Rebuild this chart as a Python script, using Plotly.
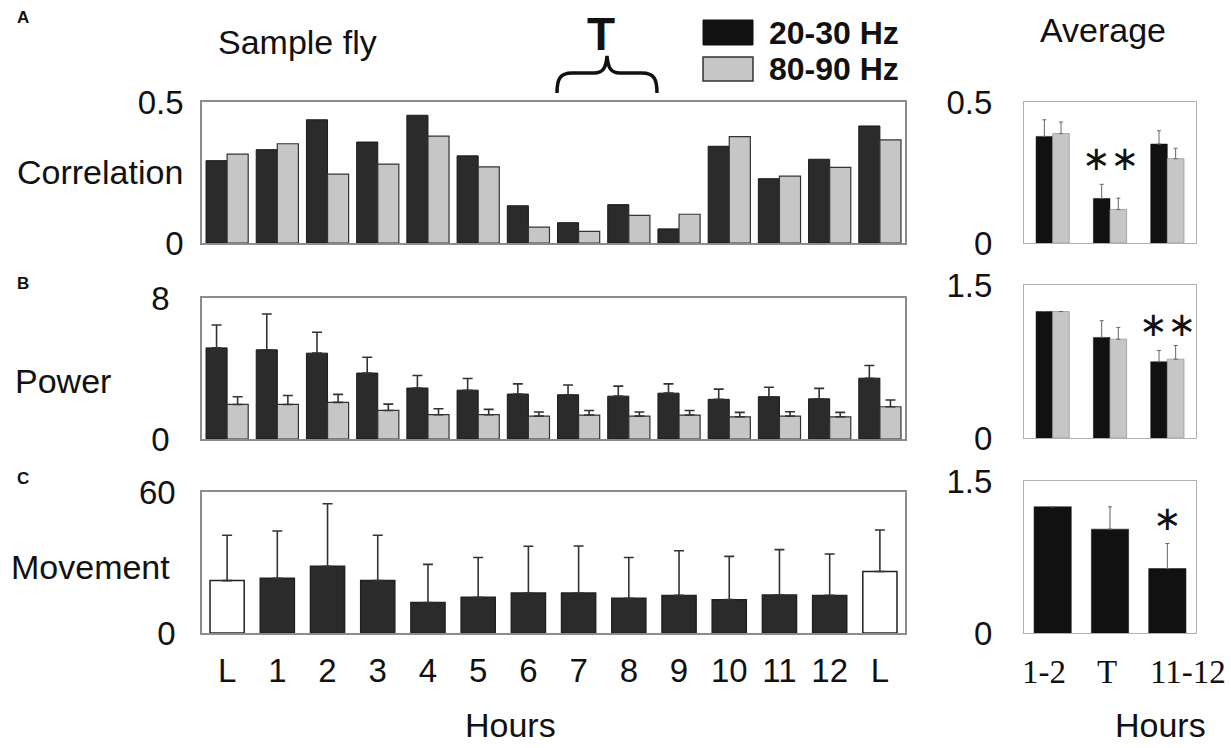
import plotly.graph_objects as go

# ---------------- data ----------------
hours = ["L", "1", "2", "3", "4", "5", "6", "7", "8", "9", "10", "11", "12", "L"]
corr_2030 = [0.292, 0.331, 0.437, 0.358, 0.453, 0.309, 0.132, 0.072, 0.136, 0.050, 0.343, 0.228, 0.297, 0.415]
corr_8090 = [0.315, 0.352, 0.244, 0.280, 0.379, 0.270, 0.056, 0.041, 0.098, 0.102, 0.377, 0.237, 0.268, 0.366]
power_2030 = [5.17, 5.06, 4.87, 3.74, 2.89, 2.77, 2.55, 2.51, 2.43, 2.60, 2.25, 2.40, 2.28, 3.45]
power_2030_err = [1.30, 2.03, 1.19, 0.90, 0.71, 0.66, 0.58, 0.55, 0.57, 0.53, 0.58, 0.54, 0.59, 0.72]
power_8090 = [1.96, 1.96, 2.08, 1.62, 1.38, 1.38, 1.30, 1.36, 1.30, 1.36, 1.26, 1.30, 1.26, 1.83]
power_8090_err = [0.44, 0.51, 0.45, 0.36, 0.34, 0.30, 0.23, 0.26, 0.23, 0.26, 0.25, 0.25, 0.25, 0.38]
movement = [22.3, 23.3, 28.4, 22.3, 13.0, 15.2, 17.0, 17.0, 14.8, 16.0, 14.2, 16.2, 16.0, 26.2]
movement_err = [19.3, 20.1, 26.6, 19.3, 16.2, 16.9, 19.9, 20.0, 17.3, 19.0, 18.4, 19.3, 17.6, 17.6]

avg_groups = ["1-2", "T", "11-12"]
avg_corr_2030 = [0.378, 0.158, 0.351]
avg_corr_2030_err = [0.059, 0.050, 0.047]
avg_corr_8090 = [0.388, 0.119, 0.299]
avg_corr_8090_err = [0.041, 0.040, 0.037]
avg_power_2030 = [1.24, 0.986, 0.747]
avg_power_2030_err = [0.0, 0.164, 0.111]
avg_power_8090 = [1.24, 0.969, 0.773]
avg_power_8090_err = [0.0, 0.115, 0.134]
avg_movement = [1.246, 1.025, 0.636]
avg_movement_err = [0.0, 0.22, 0.247]

sig_corr = ["", "**", ""]
sig_power = ["", "", "**"]
sig_movement = ["", "", "*"]

corr_ticks = [0, 0.5]
power_ticks = [0, 8]
movement_ticks = [0, 60]
avg_corr_ticks = [0, 0.5]
avg_power_ticks = [0, 1.5]
avg_movement_ticks = [0, 1.5]

series_names = ["20-30 Hz", "80-90 Hz"]

# ---------------- layout helpers ----------------
W, H = 1231, 748
SANS = "Liberation Sans, Arial, sans-serif"
SERIF = "Liberation Serif, Times New Roman, serif"
DARK = "#2b2b2b"
DARK_R = "#111111"
LIGHT = "#c6c6c6"


def px_x(x):
    return x / W


def px_y(y):
    return 1 - y / H


def dom_x(a, b):
    return [px_x(a), px_x(b)]


def dom_y(top, bottom):
    return [px_y(bottom), px_y(top)]


fig = go.Figure()
x_idx = list(range(len(hours)))
a_idx = list(range(len(avg_groups)))

bw = 0.42  # pair bar width (left)
# Panel A left
fig.add_trace(go.Bar(x=x_idx, y=corr_2030, name=series_names[0], width=bw, offset=-bw,
                     marker=dict(color=DARK, line=dict(color="#1a1a1a", width=1)),
                     xaxis="x", yaxis="y"))
fig.add_trace(go.Bar(x=x_idx, y=corr_8090, name=series_names[1], width=bw, offset=0,
                     marker=dict(color=LIGHT, line=dict(color="#333", width=1.2)),
                     xaxis="x", yaxis="y"))
# Panel B left
err_style = dict(type="data", symmetric=False, color="#333", thickness=1.6, width=5)
fig.add_trace(go.Bar(x=x_idx, y=power_2030, name=series_names[0], width=bw, offset=-bw,
                     marker=dict(color=DARK, line=dict(color="#1a1a1a", width=1)),
                     error_y=dict(array=power_2030_err, arrayminus=[0] * len(hours), **err_style),
                     xaxis="x3", yaxis="y3"))
fig.add_trace(go.Bar(x=x_idx, y=power_8090, name=series_names[1], width=bw, offset=0,
                     marker=dict(color=LIGHT, line=dict(color="#333", width=1.2)),
                     error_y=dict(array=power_8090_err, arrayminus=[0] * len(hours), **err_style),
                     xaxis="x3", yaxis="y3"))
# Panel C left
mv_colors = ["#ffffff" if h == "L" else DARK for h in hours]
fig.add_trace(go.Bar(x=x_idx, y=movement, name="Movement", width=0.68, offset=-0.34,
                     marker=dict(color=mv_colors, line=dict(color="#222", width=1.5)),
                     error_y=dict(array=movement_err, arrayminus=[0] * len(hours), **err_style),
                     xaxis="x5", yaxis="y5"))

# Right (average) panels
rbw = 0.29
r_err = dict(type="data", symmetric=False, color="#666", thickness=1, width=2)
fig.add_trace(go.Bar(x=a_idx, y=avg_corr_2030, name=series_names[0], width=rbw, offset=-rbw,
                     marker=dict(color=DARK_R, line=dict(color="#111", width=0.5)),
                     error_y=dict(array=avg_corr_2030_err, arrayminus=[0] * 3, **r_err),
                     xaxis="x2", yaxis="y2"))
fig.add_trace(go.Bar(x=a_idx, y=avg_corr_8090, name=series_names[1], width=rbw, offset=0,
                     marker=dict(color=LIGHT, line=dict(color="#999", width=0.8)),
                     error_y=dict(array=avg_corr_8090_err, arrayminus=[0] * 3, **r_err),
                     xaxis="x2", yaxis="y2"))
fig.add_trace(go.Bar(x=a_idx, y=avg_power_2030, name=series_names[0], width=rbw, offset=-rbw,
                     marker=dict(color=DARK_R, line=dict(color="#111", width=0.5)),
                     error_y=dict(array=avg_power_2030_err, arrayminus=[0] * 3, **r_err),
                     xaxis="x4", yaxis="y4"))
fig.add_trace(go.Bar(x=a_idx, y=avg_power_8090, name=series_names[1], width=rbw, offset=0,
                     marker=dict(color=LIGHT, line=dict(color="#999", width=0.8)),
                     error_y=dict(array=avg_power_8090_err, arrayminus=[0] * 3, **r_err),
                     xaxis="x4", yaxis="y4"))
fig.add_trace(go.Bar(x=a_idx, y=avg_movement, name="Movement", width=0.65, offset=-0.325,
                     marker=dict(color=DARK_R, line=dict(color="#111", width=0.5)),
                     error_y=dict(array=avg_movement_err, arrayminus=[0] * 3, **r_err),
                     xaxis="x6", yaxis="y6"))

fig.update_traces(showlegend=False, hoverinfo="skip")

LX = dom_x(202, 905)
RX = dom_x(1024, 1196)
boxline = dict(showline=True, mirror=True, linecolor="#8c8c8c", linewidth=1.5,
               showgrid=False, zeroline=False, ticks="")
rboxline = dict(showline=True, mirror=True, linecolor="#b0b0b0", linewidth=1.2,
                showgrid=False, zeroline=False, ticks="")
tickfont = dict(family=SANS, size=33, color="#111")


def xax(domain, anchor, labels, show, style, font):
    d = dict(domain=domain, anchor=anchor, range=[-0.5, len(labels) - 0.5],
             tickmode="array", tickvals=list(range(len(labels))), ticktext=labels,
             showticklabels=show, tickfont=font, ticklabelstandoff=8, fixedrange=True)
    d.update(style)
    return d


def yax(domain, anchor, ticks, style, standoff):
    d = dict(domain=domain, anchor=anchor, range=[ticks[0], ticks[-1]],
             tickmode="array", tickvals=ticks, ticktext=[("%g" % t) for t in ticks],
             tickfont=tickfont, ticklabelstandoff=standoff, fixedrange=True)
    d.update(style)
    return d


layout = dict(
    width=W, height=H, margin=dict(l=0, r=0, t=0, b=0, pad=0, autoexpand=False),
    paper_bgcolor="white", plot_bgcolor="white", barmode="overlay",
    showlegend=False,
    xaxis=xax(LX, "y", hours, False, boxline, tickfont),
    yaxis=yax(dom_y(102, 243), "x", corr_ticks, boxline, 10),
    xaxis3=xax(LX, "y3", hours, False, boxline, tickfont),
    yaxis3=yax(dom_y(298, 439), "x3", power_ticks, boxline, 24),
    xaxis5=xax(LX, "y5", hours, True, boxline, tickfont),
    yaxis5=yax(dom_y(492, 633), "x5", movement_ticks, boxline, 18),
    xaxis2=xax(RX, "y2", avg_groups, False, rboxline, tickfont),
    yaxis2=yax(dom_y(102, 243), "x2", avg_corr_ticks, rboxline, 24),
    xaxis4=xax(RX, "y4", avg_groups, False, rboxline, tickfont),
    yaxis4=yax(dom_y(285, 438), "x4", avg_power_ticks, rboxline, 24),
    xaxis6=xax(RX, "y6", avg_groups, False, rboxline, tickfont),
    yaxis6=yax(dom_y(481, 633), "x6", avg_movement_ticks, rboxline, 24),
)
fig.update_layout(**layout)

ann = []


def text(x, y, s, size=34, bold=False, xanchor="center", family=SANS):
    ann.append(dict(x=px_x(x), y=px_y(y), xref="paper", yref="paper", text=("<b>%s</b>" % s) if bold else s,
                    showarrow=False, xanchor=xanchor, yanchor="middle",
                    font=dict(family=family, size=size, color="#111")))


text(15, 18, "A", size=17, bold=True, xanchor="left")
text(15, 283, "B", size=17, bold=True, xanchor="left")
text(15, 478, "C", size=17, bold=True, xanchor="left")
text(297, 42, "Sample fly")
text(1103, 30, "Average")
text(100, 172, "Correlation")
text(63, 381, "Power")
text(90, 567, "Movement")
text(510, 725, "Hours")
text(1160, 725, "Hours")
text(601, 34, "T", size=46, bold=True)
text(767, 33, series_names[0], size=32, bold=True, xanchor="left")
text(767, 69, series_names[1], size=32, bold=True, xanchor="left")

# Average-panel category labels (serif), spread as in the original
avg_label_shift = [-9, -3, 21]
for i, g in enumerate(avg_groups):
    ann.append(dict(x=i, y=0, xref="x6", yref="y6", text=g, showarrow=False,
                    xanchor="center", yanchor="top", xshift=avg_label_shift[i], yshift=-19,
                    font=dict(family=SERIF, size=33, color="#111")))

# significance marks (data coordinates)
for sig, vals, errs, xa, ya in [
    (sig_corr, avg_corr_2030, avg_corr_2030_err, "x2", "y2"),
    (sig_power, avg_power_2030, avg_power_2030_err, "x4", "y4"),
    (sig_movement, avg_movement, avg_movement_err, "x6", "y6"),
]:
    for i, s in enumerate(sig):
        if s:
            ann.append(dict(x=i, y=vals[i] + errs[i], xref=xa, yref=ya,
                            text=s.replace("*", "\u2217"), showarrow=False,
                            xanchor="center", yanchor="bottom", yshift=4,
                            font=dict(family="DejaVu Sans", size=34, color="#111")))

fig.update_layout(annotations=ann)


def path(points_cmd):
    out = []
    for tok in points_cmd:
        if isinstance(tok, str):
            out.append(tok)
        else:
            out.append("%.5f,%.5f" % (px_x(tok[0]), px_y(tok[1])))
    return " ".join(out)


brace = path(["M", (557, 93), "C", (557, 79), (560, 73), (572, 73), "L", (594, 73),
              "C", (603, 73), (606, 68), (607, 56), "C", (608, 68), (611, 73), (620, 73),
              "L", (642, 73), "C", (654, 73), (657, 79), (657, 93)])
shapes = [
    dict(type="path", path=brace, xref="paper", yref="paper", line=dict(color="#111", width=3.5)),
    dict(type="rect", xref="paper", yref="paper", x0=px_x(703), x1=px_x(753), y0=px_y(45), y1=px_y(20),
         fillcolor="#111", line=dict(color="#111", width=1)),
    dict(type="rect", xref="paper", yref="paper", x0=px_x(703), x1=px_x(753), y0=px_y(81), y1=px_y(57),
         fillcolor=LIGHT, line=dict(color="#333", width=1.5)),
]
fig.update_layout(shapes=shapes)

fig.write_html("out.html", config={"displayModeBar": False},
               post_script="document.body.style.margin='0';document.body.style.overflow='hidden';")
